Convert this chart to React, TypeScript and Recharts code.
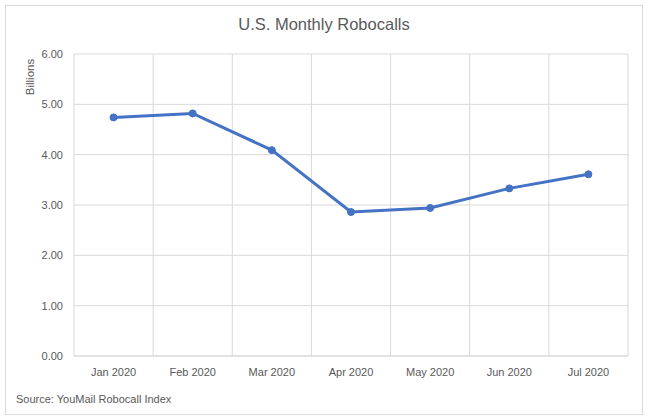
import React from 'react';
import { LineChart, Line, XAxis, YAxis, CartesianGrid } from 'recharts';

const MONTHS = ['Jan 2020', 'Feb 2020', 'Mar 2020', 'Apr 2020', 'May 2020', 'Jun 2020', 'Jul 2020'];
const ROBOCALLS = [4.74, 4.82, 4.09, 2.86, 2.94, 3.33, 3.61];
const Y_TICKS = [0, 1, 2, 3, 4, 5, 6];

const data = MONTHS.map((name, i) => ({ name, value: ROBOCALLS[i] }));

const FONT = '"Liberation Sans", Arial, sans-serif';
const GRID = '#d9d9d9';
const TEXT = '#595959';

// vertical lines sit on category boundaries, like Excel
const boundaryLines = ({ offset }: any) =>
    Array.from({ length: MONTHS.length + 1 }, (_, i) => offset.left + (i * offset.width) / MONTHS.length);

const BillionsLabel = ({ viewBox }: any) => {
    const x = 30;
    const y = viewBox.y + 23;
    return (
        <text x={x} y={y} transform={`rotate(-90 ${x} ${y})`} textAnchor="middle" dominantBaseline="central"
            fontSize={11.5} fill={TEXT} fontFamily={FONT}>
            Billions
        </text>
    );
};

export default function App() {
    return (
        <div style={{ position: 'absolute', left: 0, top: 0, width: 648, height: 420, background: '#fff', fontFamily: FONT }}>
            <div style={{ position: 'absolute', left: 5, top: 5, width: 636, height: 408, border: `1px solid ${GRID}` }} />
            <div style={{ position: 'absolute', left: 0, top: 15, width: 648, textAlign: 'center', fontSize: 16.5, color: TEXT }}>
                U.S. Monthly Robocalls
            </div>
            <div style={{ position: 'absolute', left: 0, top: 0 }}>
                <LineChart width={648} height={420} data={data} margin={{ top: 54, right: 20, bottom: 34, left: 0 }}>
                    <CartesianGrid stroke={GRID} verticalCoordinatesGenerator={boundaryLines} />
                    <XAxis dataKey="name" scale="band" height={30} axisLine={{ stroke: GRID }} tickLine={false}
                        tickSize={0} tickMargin={12} tick={{ fontSize: 11, fill: TEXT, fontFamily: FONT }} interval={0} />
                    <YAxis domain={[0, 6]} ticks={Y_TICKS} width={74} axisLine={false} tickLine={false} tickSize={0}
                        tickMargin={11} tickFormatter={(v: number) => v.toFixed(2)}
                        tick={{ fontSize: 11, fill: TEXT, fontFamily: FONT }} label={<BillionsLabel />} />
                    <Line type="linear" dataKey="value" stroke="#4472C4" strokeWidth={3}
                        dot={{ r: 3.5, fill: '#4472C4', stroke: '#4472C4', strokeWidth: 1 }} isAnimationActive={false} />
                </LineChart>
            </div>
            <div style={{ position: 'absolute', left: 16, top: 393, fontSize: 11, color: TEXT }}>
                Source: YouMail Robocall Index
            </div>
        </div>
    );
}
